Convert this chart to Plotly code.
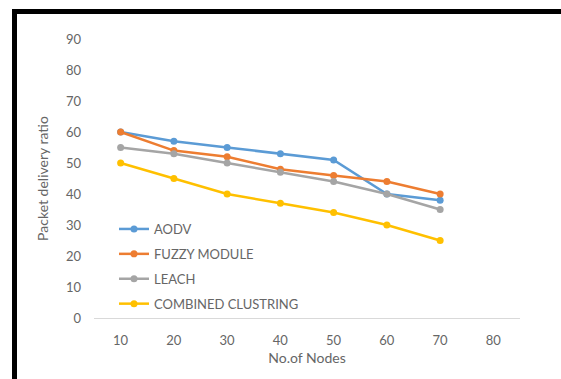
import plotly.graph_objects as go

# Number of nodes (category axis)
nodes = ["10", "20", "30", "40", "50", "60", "70", "80"]

# Packet delivery ratio per protocol (no value at 80 nodes)
aodv = [60, 57, 55, 53, 51, 40, 38]
fuzzy = [60, 54, 52, 48, 46, 44, 40]
leach = [55, 53, 50, 47, 44, 40, 35]
combined = [50, 45, 40, 37, 34, 30, 25]

series_names = ["AODV", "FUZZY MODULE", "LEACH", "COMBINED CLUSTRING"]
series_values = [aodv, fuzzy, leach, combined]
series_colors = ["#5B9BD5", "#ED7D31", "#A5A5A5", "#FFC000"]

W, H = 561, 379
L, R, T, B = 94, 41, 39, 61
pw, ph = W - L - R, H - T - B

fig = go.Figure()
for i, (name, vals, col) in enumerate(zip(series_names, series_values, series_colors)):
    fig.add_trace(go.Scatter(
        x=nodes[:len(vals)], y=vals, name=name, mode="lines+markers",
        line=dict(color=col, width=2.5),
        marker=dict(color=col, size=7, symbol="circle"),
        legendgroup=f"g{i}",
    ))


def px_x(p):
    return (p - L) / pw


def px_y(p):
    return (H - B - p) / ph


# Black frame along the left and top edges
frame = [(12, 9, 17, 379), (12, 9, 561, 14)]
shapes = [
    dict(type="rect", xref="paper", yref="paper",
         x0=px_x(a), x1=px_x(c), y0=px_y(d), y1=px_y(b),
         fillcolor="black", line=dict(width=0), layer="above")
    for a, b, c, d in frame
]

font_gray = "#666666"
fig.update_layout(
    width=W, height=H,
    margin=dict(l=L, r=R, t=T, b=B),
    paper_bgcolor="white", plot_bgcolor="white",
    font=dict(family="Lato, Open Sans, sans-serif", size=13, color=font_gray),
    shapes=shapes,
    showlegend=True,
    legend=dict(
        x=px_x(114), y=px_y(214), xanchor="left", yanchor="top",
        bgcolor="rgba(0,0,0,0)", traceorder="grouped", tracegroupgap=5,
        font=dict(size=13, color=font_gray),
        itemwidth=30,
    ),
    xaxis=dict(
        type="category", categoryorder="array", categoryarray=nodes,
        range=[-0.5, 7.5], showgrid=False, zeroline=False,
        showline=True, linecolor="#d9d9d9", linewidth=1.2,
        ticks="", ticklabelstandoff=10, tickfont=dict(size=13, color=font_gray),
        title=dict(text="No.of Nodes", font=dict(size=14, color=font_gray), standoff=6),
    ),
    yaxis=dict(
        range=[0, 90], dtick=10, tick0=0, showgrid=False, zeroline=False,
        showline=False, ticks="", ticklabelstandoff=12,
        tickfont=dict(size=13, color=font_gray),
        title=dict(text="Packet delivery ratio", font=dict(size=14, color=font_gray), standoff=14),
    ),
)

fig.write_html("out.html")
